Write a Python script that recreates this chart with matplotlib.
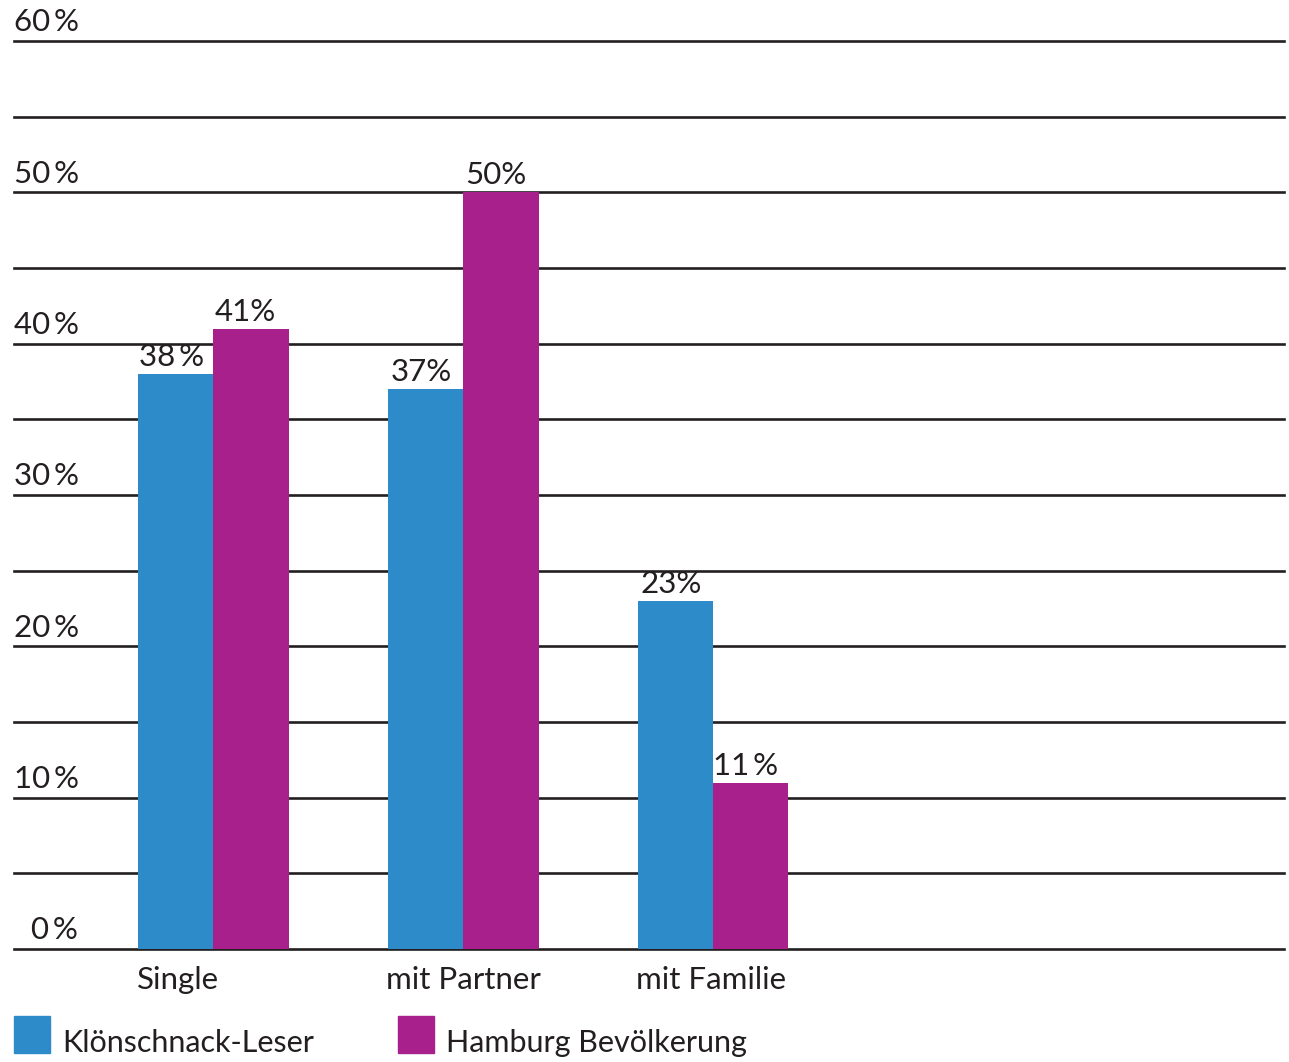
import matplotlib.pyplot as plt
import numpy as np
from matplotlib.patches import Rectangle
from matplotlib.transforms import blended_transform_factory

plt.rcParams["font.family"] = ["Lato", "DejaVu Sans"]

categories = ["Single", "mit Partner", "mit Familie"]
leser = [38, 37, 23]
hamburg = [41, 50, 11]
leser_labels = ["38\u2009%", "37%", "23%"]
hamburg_labels = ["41%", "50%", "11\u2009%"]
series_names = ["Klönschnack-Leser", "Hamburg Bevölkerung"]
tick_values = [0, 10, 20, 30, 40, 50, 60]
tick_labels = ["0\u2009%", "10\u2009%", "20\u2009%", "30\u2009%", "40\u2009%", "50\u2009%", "60\u2009%"]

BLUE = "#2E8BC9"
MAGENTA = "#A8208C"
INK = "#231F20"

W, H = 1289, 1062
fig = plt.figure(figsize=(W / 100, H / 100), dpi=100)
ax = fig.add_axes([14 / W, (H - 949) / H, 1270 / W, 908 / H])

x = np.arange(len(categories))
bw = 0.302
ax.bar(x - bw / 2, leser, bw, color=BLUE, zorder=3)
ax.bar(x + bw / 2, hamburg, bw, color=MAGENTA, zorder=3)

for i in range(len(categories)):
    ax.text(x[i] - bw / 2 - 0.015, leser[i] + 0.2, leser_labels[i], ha="center",
            va="bottom", fontsize=22.5, color=INK, zorder=4)
    ax.text(x[i] + bw / 2 - 0.02, hamburg[i] + 0.2, hamburg_labels[i], ha="center",
            va="bottom", fontsize=22.5, color=INK, zorder=4)
    ax.text(x[i] - bw - 0.004, -2.05, categories[i], ha="left", va="center",
            fontsize=22.5, color=INK)

# gridlines every 5 %
for v in range(0, 61, 5):
    ax.axhline(v, color=INK, lw=1.9, zorder=1, clip_on=False)

trans = blended_transform_factory(ax.transAxes, ax.transData)
for v, lab in zip(tick_values, tick_labels):
    ax.text(0.0 if v else 0.013, v + 0.3, lab, transform=trans, ha="left",
            va="bottom", fontsize=22.5, color=INK)

ax.set_xlim(-0.796, 4.284)
ax.set_ylim(0, 60)
ax.axis("off")

# legend
for px, name, col in [(14, series_names[0], BLUE), (398, series_names[1], MAGENTA)]:
    fig.patches.append(Rectangle((px / W, (H - 1053) / H), 36 / W, 37 / H,
                                 transform=fig.transFigure, color=col))
    fig.text((px + 48) / W, (H - 1043) / H, name, ha="left", va="center",
             fontsize=22, color=INK)

fig.savefig("out.png", dpi=100)
